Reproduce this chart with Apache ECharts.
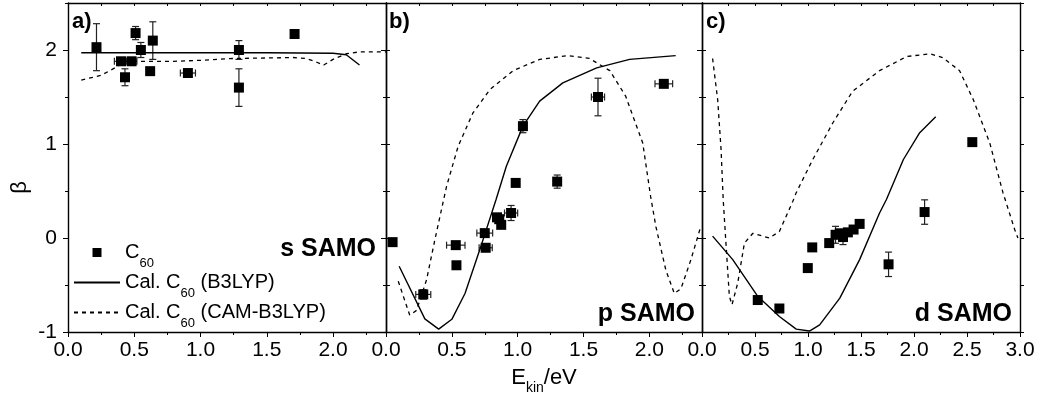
<!DOCTYPE html>
<html><head><meta charset="utf-8">
<script src="https://cdn.jsdelivr.net/npm/echarts@6/dist/echarts.min.js"></script>
<style>html,body{margin:0;padding:0;background:#fff}#c{width:1038px;height:400px}</style>
</head><body><div id="c"></div>
<script>
// ---------- data ----------
// panel a) s SAMO
const aX    = [0.215, 0.40, 0.43, 0.48, 0.51, 0.55, 0.62, 0.64, 0.905, 1.29, 1.29, 1.71];
const aY    = [2.03, 1.88, 1.71, 1.88, 2.18, 2.00, 1.775, 2.10, 1.755, 2.00, 1.60, 2.17];
const aXErr = [0, 0.05, 0, 0.04, 0, 0, 0, 0, 0.057, 0, 0, 0];
const aYErr = [0.25, 0.02, 0.09, 0.02, 0.07, 0.08, 0.03, 0.20, 0.02, 0.10, 0.20, 0.03];
const aB3X  = [0.10, 0.5, 1.0, 1.5, 2.0, 2.10, 2.20];
const aB3Y  = [1.97, 1.97, 1.97, 1.97, 1.965, 1.95, 1.84];
const aCamX = [0.10, 0.25, 0.354, 0.44, 0.6, 0.8, 1.0, 1.25, 1.5, 1.70, 1.80, 1.86, 1.93, 2.0, 2.1, 2.2, 2.4];
const aCamY = [1.68, 1.73, 1.81, 1.88, 1.88, 1.88, 1.89, 1.91, 1.915, 1.92, 1.91, 1.88, 1.84, 1.90, 1.96, 1.98, 1.98];

// panel b) p SAMO
const bX    = [0.05, 0.283, 0.53, 0.535, 0.75, 0.757, 0.843, 0.86, 0.875, 0.95, 0.985, 1.04, 1.30, 1.61, 2.11];
const bY    = [-0.044, -0.60, -0.076, -0.29, 0.052, -0.104, 0.22, 0.20, 0.14, 0.266, 0.586, 1.19, 0.60, 1.50, 1.64];
const bXErr = [0, 0.057, 0.07, 0, 0.06, 0.05, 0, 0, 0, 0.05, 0, 0, 0, 0.05, 0.067];
const bYErr = [0, 0.05, 0, 0, 0, 0, 0, 0, 0, 0.08, 0, 0.07, 0.07, 0.20, 0];
const bB3X  = [0.10, 0.295, 0.40, 0.50, 0.60, 0.712, 0.836, 0.914, 1.04, 1.167, 1.343, 1.60, 1.85, 2.2];
const bB3Y  = [-0.30, -0.86, -0.97, -0.865, -0.59, -0.126, 0.41, 0.763, 1.19, 1.456, 1.65, 1.81, 1.90, 1.94];
const bCamX = [0.093, 0.18, 0.232, 0.308, 0.371, 0.46, 0.548, 0.66, 0.79, 0.965, 1.167, 1.38, 1.545, 1.70, 1.82, 1.95, 2.01, 2.05, 2.125, 2.19, 2.24, 2.316, 2.39];
const bCamY = [-0.46, -0.82, -0.77, -0.445, -0.02, 0.55, 0.976, 1.33, 1.58, 1.78, 1.90, 1.94, 1.91, 1.78, 1.51, 1.01, 0.44, 0.12, -0.34, -0.59, -0.54, -0.23, 0.12];

// panel c) d SAMO
const cX    = [0.526, 0.73, 0.998, 1.04, 1.20, 1.26, 1.30, 1.33, 1.376, 1.43, 1.487, 1.76, 2.10, 2.55];
const cY    = [-0.66, -0.75, -0.32, -0.10, -0.054, 0.034, 0.05, 0.01, 0.06, 0.09, 0.15, -0.28, 0.276, 1.02];
const cXErr = [0.03, 0.03, 0, 0, 0, 0, 0, 0, 0, 0, 0, 0, 0, 0];
const cYErr = [0, 0, 0, 0, 0, 0.09, 0, 0.08, 0, 0, 0, 0.13, 0.13, 0];
const cB3X  = [0.10, 0.29, 0.526, 0.73, 0.889, 1.014, 1.11, 1.30, 1.487, 1.675, 1.74, 1.90, 2.054, 2.205];
const cB3Y  = [0.02, -0.23, -0.62, -0.835, -0.97, -0.99, -0.925, -0.64, -0.23, 0.266, 0.41, 0.835, 1.12, 1.29];
const cCamX = [0.10, 0.148, 0.18, 0.20, 0.22, 0.258, 0.283, 0.337, 0.40, 0.48, 0.636, 0.73, 0.857, 0.888, 1.045, 1.235, 1.42, 1.675, 1.93, 2.15, 2.27, 2.43, 2.56, 2.715, 2.84, 2.95, 2.98];
const cCamY = [1.91, 1.47, 0.94, 0.41, 0.05, -0.62, -0.71, -0.48, -0.054, 0.05, 0.0, 0.07, 0.39, 0.48, 0.835, 1.226, 1.56, 1.78, 1.93, 1.96, 1.92, 1.78, 1.47, 1.01, 0.48, 0.09, 0.0];

const xMax = [2.4, 2.4, 3.0];
const yMin = -1, yMax = 2.5;
const panelLabels = ['a)', 'b)', 'c)'];
const orbitalLabels = ['s SAMO', 'p SAMO', 'd SAMO'];
const legendText = {
  C60: '{m|C}{sub|60}',
  B3LYP: '{m|Cal. C}{sub|60}{m| (B3LYP)}',
  CAM: '{m|Cal. C}{sub|60}{m| (CAM-B3LYP)}'
};

// ---------- chart ----------
const FONT = '"Liberation Sans", Arial, Helvetica, sans-serif';
const BLACK = '#000';
const panels = [
  {x: aX, y: aY, xe: aXErr, ye: aYErr, b3x: aB3X, b3y: aB3Y, cx: aCamX, cy: aCamY},
  {x: bX, y: bY, xe: bXErr, ye: bYErr, b3x: bB3X, b3y: bB3Y, cx: bCamX, cy: bCamY},
  {x: cX, y: cY, xe: cXErr, ye: cYErr, b3x: cB3X, b3y: cB3Y, cx: cCamX, cy: cCamY}
];
const grids = [
  {left: 68, top: 3, width: 318, height: 329, outerBoundsMode: 'none'},
  {left: 386, top: 3, width: 316, height: 329, outerBoundsMode: 'none'},
  {left: 702, top: 3, width: 318, height: 329, outerBoundsMode: 'none'}
];
const zip = (xs, ys) => xs.map((v, i) => [v, ys[i]]);
const lineW = 1.4;

const xAxes = [], yAxes = [], series = [];
panels.forEach((p, i) => {
  const base = {gridIndex: i, type: 'value', min: 0, max: xMax[i], splitLine: {show: false}};
  xAxes.push(Object.assign({}, base, {
    position: 'bottom', interval: 0.5,
    axisLine: {show: true, onZero: false, lineStyle: {color: BLACK, width: lineW}},
    axisTick: {show: true, inside: false, length: 5, lineStyle: {color: BLACK, width: 1}},
    axisLabel: {show: true, margin: 8, fontSize: 21, color: BLACK, fontFamily: FONT,
      showMaxLabel: i === 2, showMinLabel: true, hideOverlap: false,
      formatter: v => v.toFixed(1)},
    name: i === 1 ? '{m|E}{sub|kin}{m|/eV}' : '',
    nameLocation: 'middle', nameGap: 33.6,
    nameTextStyle: {fontSize: 22, color: BLACK, fontFamily: FONT, lineHeight: 23.5,
      rich: {m: {fontSize: 22, verticalAlign: 'middle', lineHeight: 23.5, fontFamily: FONT, color: BLACK},
             sub: {fontSize: 14, verticalAlign: 'bottom', height: 2, lineHeight: 23.5, fontFamily: FONT, color: BLACK}}}
  }));
  xAxes.push(Object.assign({}, base, {
    position: 'bottom', interval: 0.25,
    axisLine: {show: false, onZero: false},
    axisTick: {show: true, inside: false, length: 3, lineStyle: {color: BLACK, width: 1}},
    axisLabel: {show: false}
  }));
  xAxes.push(Object.assign({}, base, {
    position: 'top', interval: 0.25,
    axisLine: {show: true, onZero: false, lineStyle: {color: BLACK, width: lineW}},
    axisTick: {show: true, inside: true, length: 3, lineStyle: {color: BLACK, width: 1}},
    axisLabel: {show: false}
  }));
  const ybase = {gridIndex: i, type: 'value', min: yMin, max: yMax, splitLine: {show: false}};
  yAxes.push(Object.assign({}, ybase, {
    position: 'left', interval: 1,
    axisLine: {show: true, onZero: false, lineStyle: {color: BLACK, width: lineW}},
    axisTick: {show: true, inside: false, length: 5, lineStyle: {color: BLACK, width: 1}},
    axisLabel: {show: i === 0, margin: 11, fontSize: 21, color: BLACK, fontFamily: FONT,
      showMaxLabel: false, formatter: v => String(v)}
  }));
  yAxes.push(Object.assign({}, ybase, {
    position: 'left', interval: 0.5,
    axisLine: {show: false, onZero: false},
    axisTick: {show: true, inside: false, length: 3, lineStyle: {color: BLACK, width: 1}},
    axisLabel: {show: false}
  }));
  yAxes.push(Object.assign({}, ybase, {
    position: 'right', interval: 0.5,
    axisLine: {show: true, onZero: false, lineStyle: {color: BLACK, width: lineW}},
    axisTick: {show: true, inside: false, length: 4, lineStyle: {color: BLACK, width: 1}},
    axisLabel: {show: false}
  }));
  yAxes.push(Object.assign({}, ybase, {
    position: 'right', interval: 1,
    axisLine: {show: false, onZero: false},
    axisTick: {show: false},
    axisLabel: {show: false}
  }));

  const xi = i * 3, yi = i * 4;
  series.push({
    type: 'custom', name: 'err' + i, xAxisIndex: xi, yAxisIndex: yi, z: 3, silent: true,
    data: p.x.map((v, k) => [v, p.y[k], p.xe[k], p.ye[k]]),
    encode: {x: 0, y: 1},
    renderItem: (params, api) => {
      const x = api.value(0), y = api.value(1), xe = api.value(2), ye = api.value(3);
      const st = {stroke: '#222', lineWidth: 1.2};
      const ch = [], cap = 3.5;
      if (ye > 0) {
        const p1 = api.coord([x, y - ye]), p2 = api.coord([x, y + ye]);
        ch.push({type: 'line', shape: {x1: p1[0], y1: p1[1], x2: p2[0], y2: p2[1]}, style: st});
        ch.push({type: 'line', shape: {x1: p1[0] - cap, y1: p1[1], x2: p1[0] + cap, y2: p1[1]}, style: st});
        ch.push({type: 'line', shape: {x1: p2[0] - cap, y1: p2[1], x2: p2[0] + cap, y2: p2[1]}, style: st});
      }
      if (xe > 0) {
        const p1 = api.coord([x - xe, y]), p2 = api.coord([x + xe, y]);
        ch.push({type: 'line', shape: {x1: p1[0], y1: p1[1], x2: p2[0], y2: p2[1]}, style: st});
        ch.push({type: 'line', shape: {x1: p1[0], y1: p1[1] - cap, x2: p1[0], y2: p1[1] + cap}, style: st});
        ch.push({type: 'line', shape: {x1: p2[0], y1: p2[1] - cap, x2: p2[0], y2: p2[1] + cap}, style: st});
      }
      return {type: 'group', children: ch};
    }
  });
  series.push({
    type: 'scatter', name: 'C60', xAxisIndex: xi, yAxisIndex: yi, z: 5,
    symbol: 'rect', symbolSize: 10, itemStyle: {color: BLACK, opacity: 1},
    data: zip(p.x, p.y)
  });
  series.push({
    type: 'line', name: 'B3LYP', xAxisIndex: xi, yAxisIndex: yi, z: 4,
    symbol: 'none', showSymbol: false, clip: true,
    lineStyle: {color: BLACK, width: 1.4, type: 'solid'}, itemStyle: {color: BLACK},
    data: zip(p.b3x, p.b3y)
  });
  series.push({
    type: 'line', name: 'CAM', xAxisIndex: xi, yAxisIndex: yi, z: 4,
    symbol: 'none', showSymbol: false, clip: true,
    lineStyle: {color: BLACK, width: 1.3, type: [4, 4]}, itemStyle: {color: BLACK},
    data: zip(p.cx, p.cy)
  });
});

const graphics = [];
const labelX = [72, 389, 706];
const orbRight = [376, 695, 1012];
const orbY = [249, 314, 314];
for (let i = 0; i < 3; i++) {
  graphics.push({type: 'text', x: labelX[i], y: 21.5, z: 10,
    style: {text: panelLabels[i], font: 'bold 22px ' + FONT, fill: BLACK, align: 'left', verticalAlign: 'middle'}});
  graphics.push({type: 'text', x: orbRight[i], y: orbY[i], z: 10,
    style: {text: orbitalLabels[i], font: 'bold 25px ' + FONT, fill: BLACK, align: 'right', verticalAlign: 'middle'}});
}
graphics.push({type: 'text', x: 20, y: 187.5, rotation: Math.PI / 2, z: 10,
  style: {text: 'β', font: '22px ' + FONT, fill: BLACK, align: 'center', verticalAlign: 'middle'}});

const hidden = {color: 'rgba(0,0,0,0)', borderColor: 'rgba(0,0,0,0)', borderWidth: 0, opacity: 0};
const option = {
  animation: false,
  backgroundColor: '#fff',
  grid: grids,
  xAxis: xAxes,
  yAxis: yAxes,
  legend: {
    orient: 'vertical', left: 73, top: 241, padding: 0, itemGap: 1.5,
    itemWidth: 46, itemHeight: 9, selectedMode: false, symbolKeepAspect: true,
    data: [
      {name: 'C60', icon: 'path://M0,0H10V10H0Z', itemStyle: {color: BLACK, opacity: 1}},
      {name: 'B3LYP', itemStyle: hidden},
      {name: 'CAM', itemStyle: hidden}
    ],
    formatter: n => legendText[n],
    textStyle: {fontSize: 20, color: BLACK, fontFamily: FONT, lineHeight: 23,
      rich: {m: {fontSize: 20, verticalAlign: 'middle', lineHeight: 23, fontFamily: FONT, color: BLACK},
             sub: {fontSize: 13, verticalAlign: 'bottom', height: 2, lineHeight: 23, fontFamily: FONT, color: BLACK}}}
  },
  graphic: graphics,
  series: series
};
const chart = echarts.init(document.getElementById('c'), null, {renderer: 'canvas'});
chart.setOption(option);
</script></body></html>
